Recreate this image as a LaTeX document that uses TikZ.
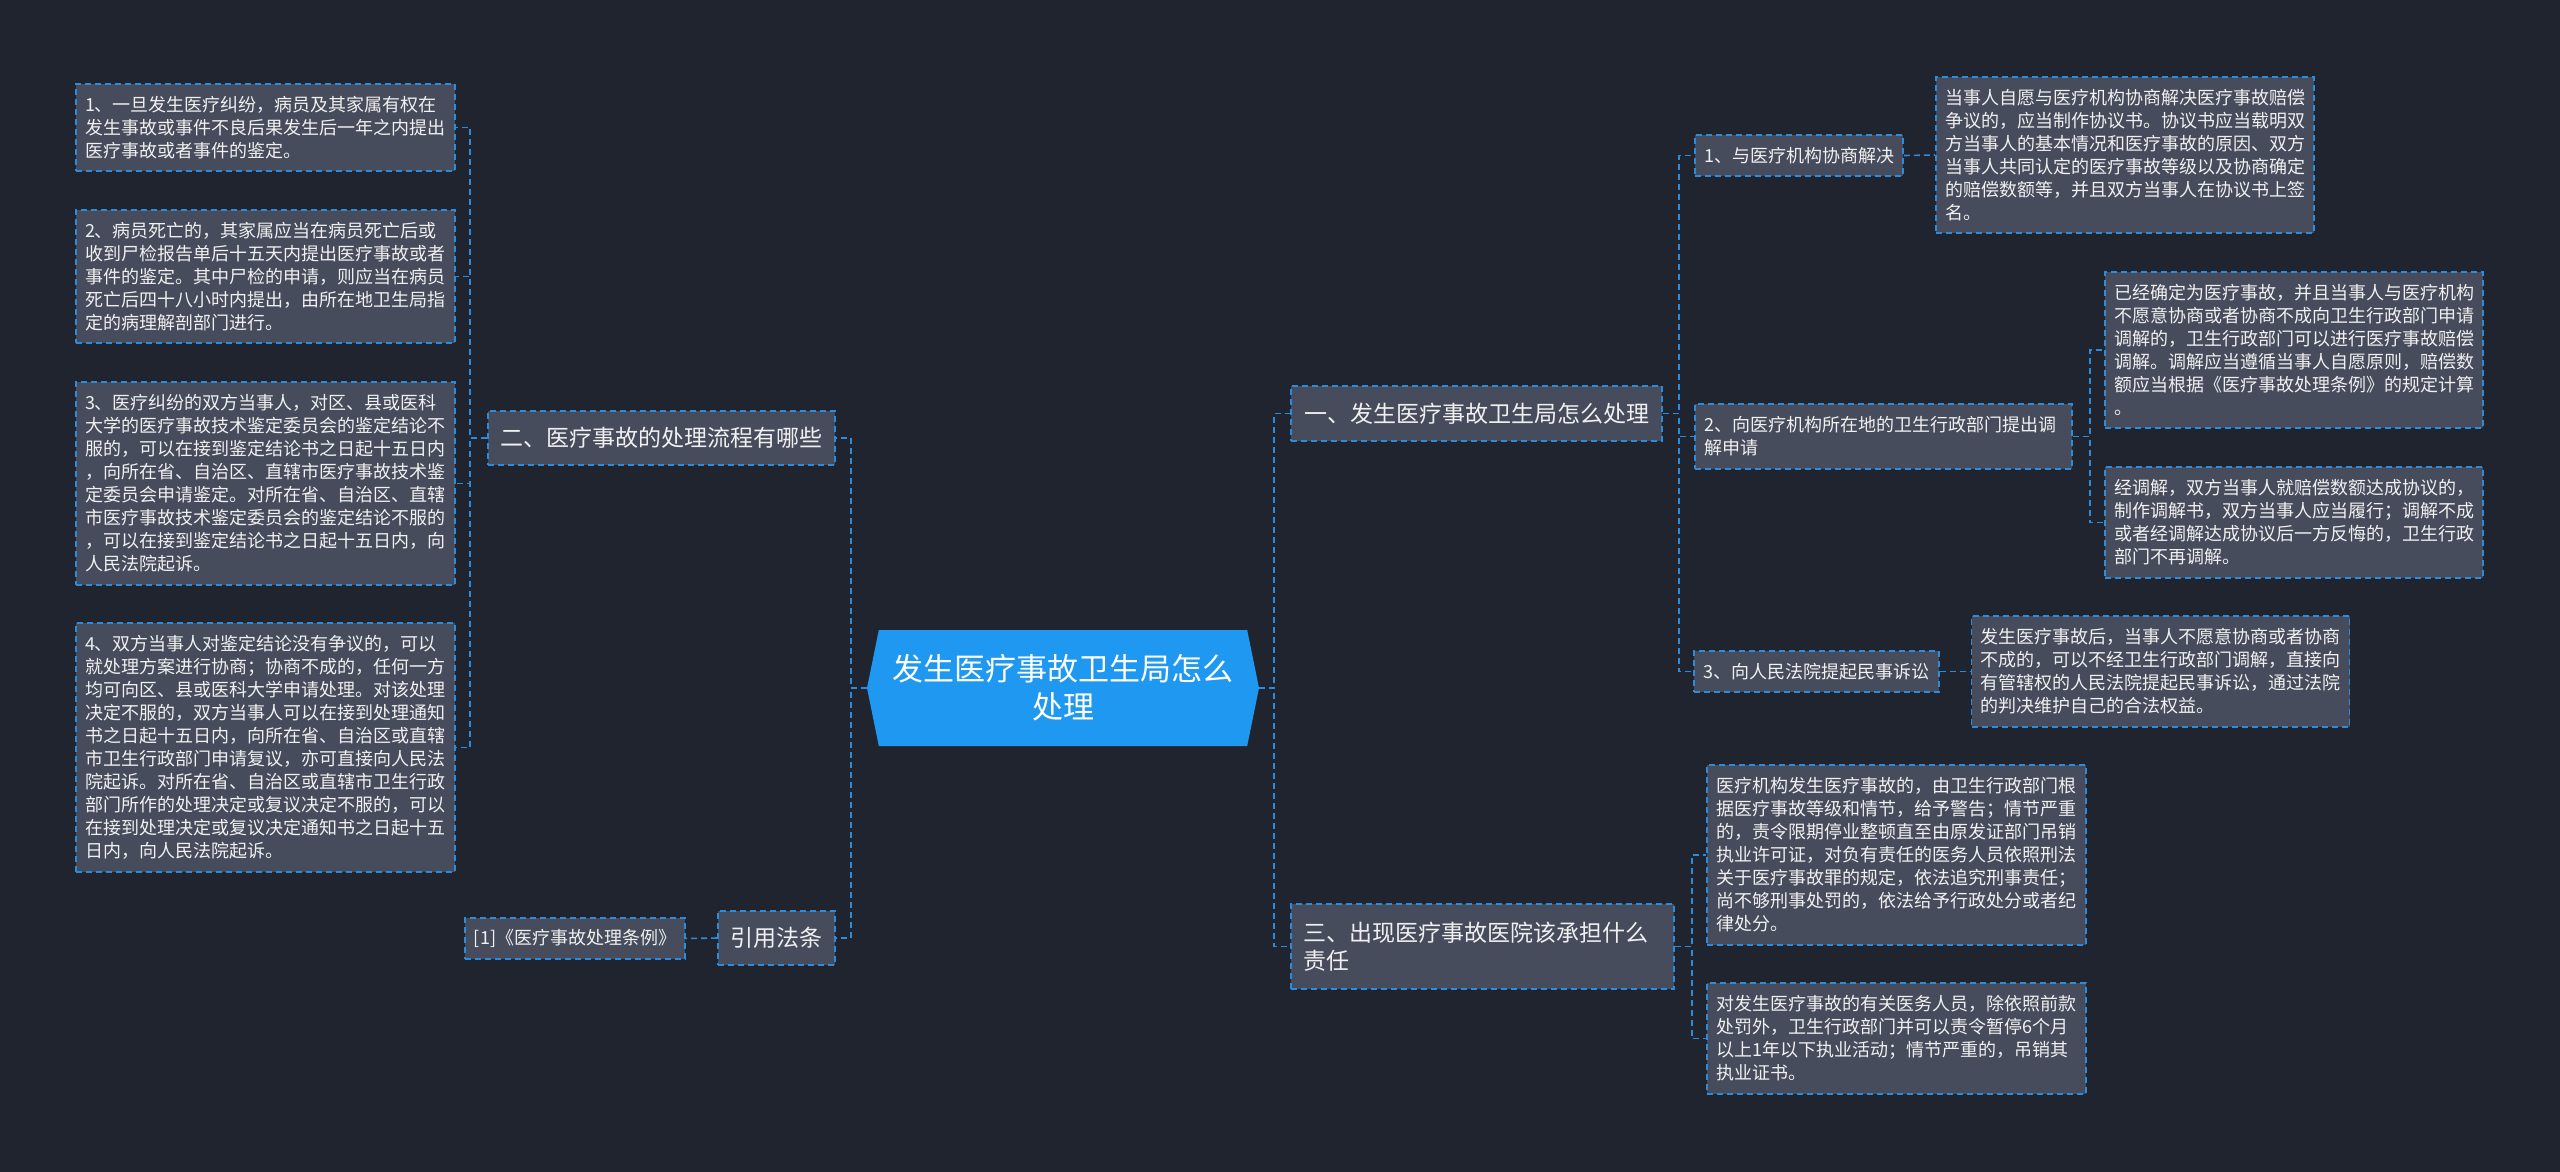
\documentclass[tikz,border=0pt]{standalone}
\usepackage{fontspec}
\setmainfont{Noto Sans CJK SC}
\usepackage{xcolor}
\usepackage{tikz}
\usetikzlibrary{
    positioning,
    shapes.symbols,
}
\definecolor{bgdark}{HTML}{20242F}
\definecolor{boxfill}{HTML}{464C5C}
\definecolor{linkblue}{HTML}{2B8CDE}
\definecolor{rootblue}{HTML}{1E98F0}
\definecolor{textwhite}{HTML}{F0F0F0}
\tikzset{
    % Box styles
    box/.style={rectangle, draw=linkblue, fill=boxfill, dash pattern=on 6pt off 4pt,
                line width=1.6pt, text=textwhite, inner xsep=9pt, inner ysep=0pt, align=left},
    small box/.style={box, font=\fontsize{18}{23}\selectfont},
    big box/.style={box, font=\fontsize{23}{28}\selectfont},
    % Connector style
    link/.style={draw=linkblue, dash pattern=on 6pt off 4pt, line width=1.6pt},
}

\begin{document}
\begin{tikzpicture}[
    x=1pt, y=-1pt,
    root/.style={signal, signal to=west and east, signal pointer angle=157, fill=rootblue,
                 text=white, align=center, inner sep=0pt, font=\fontsize{31}{38}\selectfont},
]
    \useasboundingbox (0,0) rectangle (2560,1171);
    \fill[bgdark] (-10,-10) rectangle (2570,1181);

    % Root
    \node[root, minimum width=392pt, minimum height=116pt] (root) at (1063,688) {发生医疗事故卫生局怎么\\处理};

    % Left: process
    \node[big box, minimum width=347pt, minimum height=54pt, align=center] (proc) at (661.5,438) {二、医疗事故的处理流程有哪些};
    \node[small box, text width=361pt, minimum height=87pt] (p1) at (265.5,127.5) {1、一旦发生医疗纠纷，病员及其家属有权在\\发生事故或事件不良后果发生后一年之内提出\\医疗事故或者事件的鉴定。};
    \node[small box, text width=361pt, minimum height=133pt] (p2) at (265.5,276.5) {2、病员死亡的，其家属应当在病员死亡后或\\收到尸检报告单后十五天内提出医疗事故或者\\事件的鉴定。其中尸检的申请，则应当在病员\\死亡后四十八小时内提出，由所在地卫生局指\\定的病理解剖部门进行。};
    \node[small box, text width=361pt, minimum height=203pt] (p3) at (265.5,483.5) {3、医疗纠纷的双方当事人，对区、县或医科\\大学的医疗事故技术鉴定委员会的鉴定结论不\\服的，可以在接到鉴定结论书之日起十五日内\\，向所在省、自治区、直辖市医疗事故技术鉴\\定委员会申请鉴定。对所在省、自治区、直辖\\市医疗事故技术鉴定委员会的鉴定结论不服的\\，可以在接到鉴定结论书之日起十五日内，向\\人民法院起诉。};
    \node[small box, text width=361pt, minimum height=249pt] (p4) at (265.5,747.5) {4、双方当事人对鉴定结论没有争议的，可以\\就处理方案进行协商；协商不成的，任何一方\\均可向区、县或医科大学申请处理。对该处理\\决定不服的，双方当事人可以在接到处理通知\\书之日起十五日内，向所在省、自治区或直辖\\市卫生行政部门申请复议，亦可直接向人民法\\院起诉。对所在省、自治区或直辖市卫生行政\\部门所作的处理决定或复议决定不服的，可以\\在接到处理决定或复议决定通知书之日起十五\\日内，向人民法院起诉。};

    % Left: citation
    \node[big box, minimum width=117pt, minimum height=54pt, align=center] (cite) at (776.5,938) {引用法条};
    \node[small box, minimum width=220pt, minimum height=41pt, align=center] (law) at (575,938.5) {[1]《医疗事故处理条例》};

    % Right: how to handle
    \node[big box, minimum width=371pt, minimum height=55pt, align=center] (how) at (1476.5,413.5) {一、发生医疗事故卫生局怎么处理};
    \node[small box, minimum width=208pt, minimum height=41pt, align=center] (w1) at (1799,155.5) {1、与医疗机构协商解决};
    \node[small box, text width=359pt, minimum height=65pt] (w2) at (1883.5,436.5) {2、向医疗机构所在地的卫生行政部门提出调\\解申请};
    \node[small box, minimum width=245pt, minimum height=41pt, align=center] (w3) at (1816.5,671.5) {3、向人民法院提起民事诉讼};
    \node[small box, text width=360pt, minimum height=156pt] (w1a) at (2125,155) {当事人自愿与医疗机构协商解决医疗事故赔偿\\争议的，应当制作协议书。协议书应当载明双\\方当事人的基本情况和医疗事故的原因、双方\\当事人共同认定的医疗事故等级以及协商确定\\的赔偿数额等，并且双方当事人在协议书上签\\名。};
    \node[small box, text width=360pt, minimum height=156pt] (w2a) at (2294,350) {已经确定为医疗事故，并且当事人与医疗机构\\不愿意协商或者协商不成向卫生行政部门申请\\调解的，卫生行政部门可以进行医疗事故赔偿\\调解。调解应当遵循当事人自愿原则，赔偿数\\额应当根据《医疗事故处理条例》的规定计算\\。};
    \node[small box, text width=360pt, minimum height=111pt] (w2b) at (2294,522.5) {经调解，双方当事人就赔偿数额达成协议的，\\制作调解书，双方当事人应当履行；调解不成\\或者经调解达成协议后一方反悔的，卫生行政\\部门不再调解。};
    \node[small box, text width=360pt, minimum height=111pt] (w3a) at (2160.5,671.5) {发生医疗事故后，当事人不愿意协商或者协商\\不成的，可以不经卫生行政部门调解，直接向\\有管辖权的人民法院提起民事诉讼，通过法院\\的判决维护自己的合法权益。};

    % Right: liability
    \node[big box, text width=359pt, inner xsep=12pt, minimum height=85pt] (duty) at (1482.5,946.5) {三、出现医疗事故医院该承担什么\\责任};
    \node[small box, text width=361pt, minimum height=180pt] (d1) at (1896.5,855) {医疗机构发生医疗事故的，由卫生行政部门根\\据医疗事故等级和情节，给予警告；情节严重\\的，责令限期停业整顿直至由原发证部门吊销\\执业许可证，对负有责任的医务人员依照刑法\\关于医疗事故罪的规定，依法追究刑事责任；\\尚不够刑事处罚的，依法给予行政处分或者纪\\律处分。};
    \node[small box, text width=361pt, minimum height=111pt] (d2) at (1896.5,1038.5) {对发生医疗事故的有关医务人员，除依照前款\\处罚外，卫生行政部门并可以责令暂停6个月\\以上1年以下执业活动；情节严重的，吊销其\\执业证书。};

    % Connectors
    \foreach \n in {proc,cite} {
        \draw[link] (root.west) -- ++(-16,0) |- (\n.east);
    }
    \foreach \n in {p1,p2,p3,p4} {
        \draw[link] (proc.west) -- ++(-17,0) |- (\n.east);
    }
    \draw[link] (cite.west) -- (law.east);
    \foreach \n in {how,duty} {
        \draw[link] (root.east) -- ++(15,0) |- (\n.west);
    }
    \foreach \n in {w1,w2,w3} {
        \draw[link] (how.east) -- ++(16,0) |- (\n.west);
    }
    \draw[link] (w1.east) -- (w1a.west);
    \foreach \n in {w2a,w2b} {
        \draw[link] (w2.east) -- ++(17,0) |- (\n.west);
    }
    \draw[link] (w3.east) -- (w3a.west);
    \foreach \n in {d1,d2} {
        \draw[link] (duty.east) -- ++(17,0) |- (\n.west);
    }
\end{tikzpicture}
\end{document}
